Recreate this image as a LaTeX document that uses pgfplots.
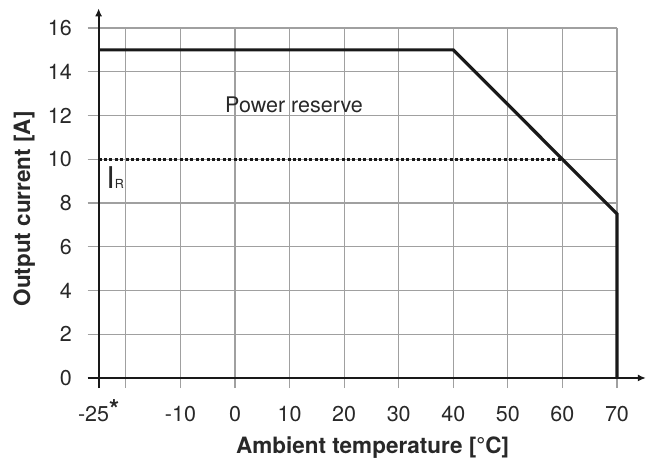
\documentclass[border=0pt]{standalone}
\usepackage{pgfplots}
\pgfplotsset{compat=1.18}
\usepackage{fontspec}
\setmainfont{TeX Gyre Heros}
\usetikzlibrary{arrows.meta}
\definecolor{gridgray}{RGB}{160,160,160}
\definecolor{txt}{RGB}{40,40,40}
\tikzset{axarrow/.style={-{Latex[length=8pt,width=7pt]}}}

\begin{document}
\begin{tikzpicture}
\begin{axis}[
  scale only axis, width=558.2pt, height=382.8pt,
  xmin=-27, xmax=75.3, ymin=-0.6, ymax=16.9,
  axis line style={draw=none},
  tick style={draw=none},
  xtick={-25,-10,0,10,20,30,40,50,60,70},
  xticklabels={-25\smash{\raisebox{3pt}{\fontsize{26}{26}\selectfont\bfseries *}},-10,0,10,20,30,40,50,60,70},
  ytick={0,2,...,16},
  /pgf/number format/assume math mode=true,
  ticklabel style={font=\fontsize{21.5}{24}\selectfont, text=txt, inner sep=0pt},
  xticklabel style={anchor=base, yshift=-30pt},
  yticklabel style={anchor=east, xshift=-15.7pt},
  xlabel={Ambient temperature [°C]},
  ylabel={Output current [A]},
  label style={font=\fontsize{22.5}{26}\selectfont\bfseries, text=txt, inner sep=0pt},
  xlabel style={at={(axis cs:25.2,-3.43)}, anchor=base},
  ylabel style={at={(axis cs:-37.57,7.73)}, anchor=base},
  clip=false,
]
% grid
\pgfplotsinvokeforeach{-20,-10,...,70}{
  \draw[gridgray, line width=1.1pt] (axis cs:#1,-0.46) -- (axis cs:#1,16);
}
\pgfplotsinvokeforeach{2,4,...,16}{
  \draw[gridgray, line width=1.1pt] (axis cs:-27,#1) -- (axis cs:70,#1);
}
% derating curve and rated current
\addplot[black!90, line width=3.2pt, line join=miter] coordinates {(-25,15) (40,15) (70,7.5) (70,0)};
\addplot[black!90, line width=3pt, dash pattern=on 3pt off 2.4pt] coordinates {(-25,10) (60,10)};
% axes
\draw[black!90, line width=1.8pt, axarrow] (axis cs:-27,0) -- (axis cs:75.3,0);
\draw[black!90, line width=1.8pt, axarrow] (axis cs:-25,-0.46) -- (axis cs:-25,16.9);
\node[anchor=base west, inner sep=0pt, font=\fontsize{21.5}{24}\selectfont, text=txt] at (axis cs:-1.83,12.13) {Power reserve};
\node[anchor=base west, inner sep=0pt, text=txt] at (axis cs:-23.6,8.67) {{\fontsize{30}{30}\selectfont I}{\fontsize{12.5}{13}\selectfont R}};
\end{axis}
\path ([shift={(-87.7pt,-71.9pt)}]current axis.south west) rectangle ([shift={(3.1pt,8.3pt)}]current axis.north east);
\end{tikzpicture}
\end{document}
